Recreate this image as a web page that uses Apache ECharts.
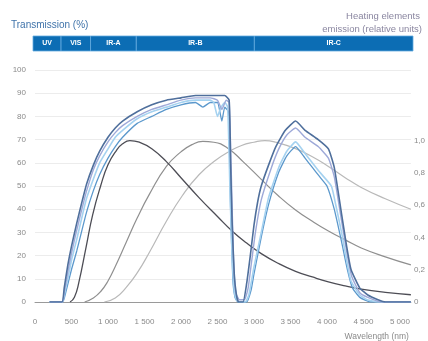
<!DOCTYPE html>
<html>
<head>
<meta charset="utf-8">
<script src="https://cdn.jsdelivr.net/npm/echarts@6/dist/echarts.min.js"></script>
<style>
html,body{margin:0;padding:0;background:#fff;}
#chart{width:428px;height:341px;}
</style>
</head>
<body>
<div id="chart"></div>
<script>
// ---- Spectral bands (nm) ----
const bandNames  = ['UV', 'VIS', 'IR-A', 'IR-B', 'IR-C'];
const bandStarts = [0, 380, 780, 1400, 3000];
const bandEnds   = [380, 780, 1400, 3000, 5150];

// ---- Transmission curves (%) ----
const t1Nm  = [200, 370, 400, 450, 500, 572, 650, 708, 800, 886, 1000, 1100, 1200, 1400, 1600, 1800, 2000, 2200, 2400, 2500, 2600, 2660, 2680, 2700, 2730, 2760, 2790, 2850, 2900, 2950, 3000, 3050, 3100, 3200, 3300, 3430, 3570, 3700, 3880, 4020, 4100, 4200, 4270, 4330, 4450, 4560, 4700, 4800, 5150];
const t1Val = [0, 0, 6, 16, 24, 34, 44, 51, 59, 65, 71, 75, 78, 82, 85, 87, 88, 89, 89, 89, 89, 87, 60, 35, 12, 3, 0, 0, 8, 20, 33, 43, 50, 59, 67, 74, 78, 74, 70, 66, 58, 38, 24, 14, 6, 3, 1, 0, 0];

const t4Nm  = [200, 375, 400, 450, 500, 572, 650, 708, 800, 886, 1000, 1100, 1200, 1400, 1600, 1800, 2000, 2200, 2400, 2500, 2560, 2620, 2660, 2690, 2720, 2750, 2800, 2870, 2920, 2970, 3020, 3100, 3240, 3340, 3450, 3570, 3700, 3880, 4020, 4100, 4200, 4280, 4340, 4450, 4560, 4750, 5150];
const t4Val = [0, 0, 4, 13, 21, 31, 41, 48, 57, 63, 69, 73, 76, 80, 83, 85, 87, 88, 88, 87, 83, 87, 86, 55, 18, 4, 1, 1, 6, 18, 30, 44, 58, 66, 72, 75, 71, 67, 62, 54, 35, 20, 11, 4, 2, 0, 0];

const t2Nm  = [200, 375, 400, 450, 500, 572, 700, 800, 886, 1000, 1100, 1200, 1400, 1600, 1800, 2000, 2200, 2300, 2400, 2450, 2500, 2550, 2600, 2640, 2670, 2700, 2730, 2760, 2800, 2880, 2930, 3000, 3100, 3200, 3340, 3450, 3570, 3700, 3800, 3900, 4060, 4120, 4200, 4270, 4330, 4450, 4550, 4700, 5150];
const t2Val = [0, 0, 3, 10, 18, 27, 44, 53, 60, 66, 71, 74, 79, 82, 84, 86, 87, 87, 87, 86, 80, 84, 86, 84, 50, 20, 5, 1, 0, 0, 3, 15, 30, 45, 58, 65, 69, 64, 60, 56, 50, 42, 30, 18, 9, 3, 1, 0, 0];

const t3Nm  = [200, 380, 420, 500, 572, 700, 800, 886, 1000, 1100, 1200, 1400, 1600, 1800, 2000, 2200, 2300, 2400, 2500, 2560, 2600, 2650, 2680, 2710, 2740, 2780, 2900, 2960, 3000, 3100, 3200, 3340, 3450, 3570, 3700, 3800, 3900, 4000, 4100, 4200, 4280, 4350, 4450, 4600, 5150];
const t3Val = [0, 0, 4, 14, 22, 38, 48, 55, 62, 67, 71, 77, 80, 83, 85, 86, 84, 86, 86, 78, 84, 82, 40, 10, 2, 0, 0, 5, 12, 28, 42, 56, 63, 67, 62, 58, 54, 50, 40, 26, 14, 6, 2, 0, 0];

// ---- Heating element emission (relative units, right axis) ----
const p1Nm  = [480, 540, 600, 700, 790, 900, 1000, 1117, 1200, 1300, 1430, 1600, 1800, 2000, 2250, 2500, 2700, 2900, 3100, 3330, 3570, 3800, 4020, 4250, 4470, 4800, 5150];
const p1Val = [0, 0.03, 0.12, 0.34, 0.54, 0.72, 0.85, 0.94, 0.98, 1.0, 0.99, 0.95, 0.87, 0.77, 0.645, 0.53, 0.44, 0.365, 0.3, 0.24, 0.19, 0.155, 0.125, 0.1, 0.08, 0.06, 0.045];

const p2Nm  = [680, 800, 900, 1000, 1100, 1250, 1400, 1570, 1800, 2000, 2150, 2300, 2450, 2650, 2850, 3100, 3330, 3570, 3800, 4020, 4250, 4470, 4800, 5150];
const p2Val = [0, 0.025, 0.065, 0.13, 0.22, 0.37, 0.52, 0.67, 0.84, 0.93, 0.975, 0.995, 0.99, 0.95, 0.87, 0.76, 0.66, 0.57, 0.5, 0.44, 0.385, 0.335, 0.28, 0.23];

const p3Nm  = [950, 1100, 1250, 1400, 1570, 1800, 2020, 2250, 2480, 2650, 2830, 3000, 3150, 3300, 3570, 3800, 4020, 4250, 4470, 4800, 5150];
const p3Val = [0, 0.025, 0.09, 0.18, 0.31, 0.5, 0.66, 0.79, 0.88, 0.93, 0.97, 0.99, 1.0, 0.99, 0.95, 0.9, 0.84, 0.77, 0.71, 0.64, 0.575];

// ---- Axis tick labels ----
const xTicks = [0, 500, 1000, 1500, 2000, 2500, 3000, 3500, 4000, 4500, 5000];
const xTickLabels = ['0', '500', '1 000', '1 500', '2 000', '2 500', '3 000', '3 500', '4 000', '4 500', '5 000'];
const rightTicks = [0, 0.2, 0.4, 0.6, 0.8, 1.0];
const rightTickLabels = ['0', '0,2', '0,4', '0,6', '0,8', '1,0'];

function pairs(xs, ys){ return xs.map((x,i)=>[x, ys[i]]); }

const chart = echarts.init(document.getElementById('chart'), null, {renderer:'canvas'});

function lineSeries(name, xs, ys, color, width, yIdx, smooth){
  return {
    name: name, type: 'line', xAxisIndex: 0, yAxisIndex: yIdx,
    data: pairs(xs, ys), showSymbol: false, symbol: 'none',
    smooth: smooth,
    lineStyle: {color: color, width: width},
    silent: true, z: 3
  };
}

const FONT = 'Liberation Sans';
const option = {
  animation: false,
  backgroundColor: '#ffffff',
  title: [
    {text: 'Transmission (%)', left: 6, top: 15, textStyle: {fontSize: 10, fontWeight: 'normal', color: '#3f73aa', fontFamily: FONT}},
    {text: 'Heating elements', right: 3, top: 6, textStyle: {fontSize: 9.5, fontWeight: 'normal', color: '#8a86a0', fontFamily: FONT}},
    {text: 'emission (relative units)', right: 1, top: 19, textStyle: {fontSize: 9.5, fontWeight: 'normal', color: '#8a86a0', fontFamily: FONT}}
  ],
  grid: [
    {left: 35, right: 15, top: 70, bottom: 39},
    {left: 33, right: 15, top: 36, height: 15}
  ],
  xAxis: [
    {
      type: 'value', gridIndex: 0, min: 0, max: 5150, interval: 500,
      name: 'Wavelength (nm)', nameLocation: 'end', nameGap: -2,
      nameTextStyle: {align: 'right', verticalAlign: 'top', padding: [30, 0, 0, 0], fontSize: 8.5, color: '#8a8a8a', fontFamily: FONT},
      axisLine: {show: true, lineStyle: {color: '#9a9a9a', width: 1}},
      axisTick: {show: false},
      splitLine: {show: false},
      axisLabel: {
        fontSize: 8, color: '#8a8a8a', margin: 16, fontFamily: FONT,
        formatter: function(v){ const i = xTicks.indexOf(v); return i >= 0 ? xTickLabels[i] : ''; }
      }
    },
    {type: 'value', gridIndex: 1, min: 0, max: 5150, show: false}
  ],
  yAxis: [
    {
      type: 'value', gridIndex: 0, min: 0, max: 100, interval: 10, position: 'left',
      axisLine: {show: false}, axisTick: {show: false},
      splitLine: {show: true, lineStyle: {color: '#ececec', width: 1}},
      axisLabel: {fontSize: 8, color: '#8a8a8a', margin: 9, fontFamily: FONT}
    },
    {
      type: 'value', gridIndex: 0, min: 0, max: 1.4375, interval: 0.2, position: 'right',
      axisLine: {show: false}, axisTick: {show: false}, splitLine: {show: false},
      axisLabel: {
        fontSize: 8, color: '#8a8a8a', margin: 3, fontFamily: FONT,
        showMaxLabel: false,
        formatter: function(v){
          for (let i = 0; i < rightTicks.length; i++) { if (Math.abs(rightTicks[i] - v) < 1e-6) return rightTickLabels[i]; }
          return '';
        }
      }
    },
    {type: 'value', gridIndex: 1, min: 0, max: 1, show: false}
  ],
  series: [
    lineSeries('P3', p3Nm, p3Val, '#b9b9b9', 1.2, 1, 0.5),
    lineSeries('P2', p2Nm, p2Val, '#8f8f8f', 1.2, 1, 0.5),
    lineSeries('P1', p1Nm, p1Val, '#4d4d55', 1.3, 1, 0.5),
    lineSeries('T3', t3Nm, t3Val, '#5b98cc', 1.3, 0, 0.15),
    lineSeries('T2', t2Nm, t2Val, '#a5d2f0', 1.6, 0, 0.15),
    lineSeries('T4', t4Nm, t4Val, '#9ea9d8', 1.4, 0, 0.15),
    lineSeries('T1', t1Nm, t1Val, '#4f6f9c', 1.6, 0, 0.15),
    {
      name: 'bands', type: 'line', xAxisIndex: 1, yAxisIndex: 2,
      data: [[0, 0]], symbol: 'none', lineStyle: {opacity: 0}, silent: true,
      markArea: {
        silent: true,
        itemStyle: {color: '#0c6db4', borderColor: '#63abe0', borderWidth: 0.8},
        label: {show: true, position: 'inside', color: '#ffffff', fontSize: 7, fontWeight: 'bold', fontFamily: FONT},
        data: bandNames.map((n, i) => [
          {name: n, xAxis: bandStarts[i], yAxis: 0},
          {xAxis: bandEnds[i], yAxis: 1}
        ])
      }
    }
  ]
};
chart.setOption(option);
</script>
</body>
</html>
